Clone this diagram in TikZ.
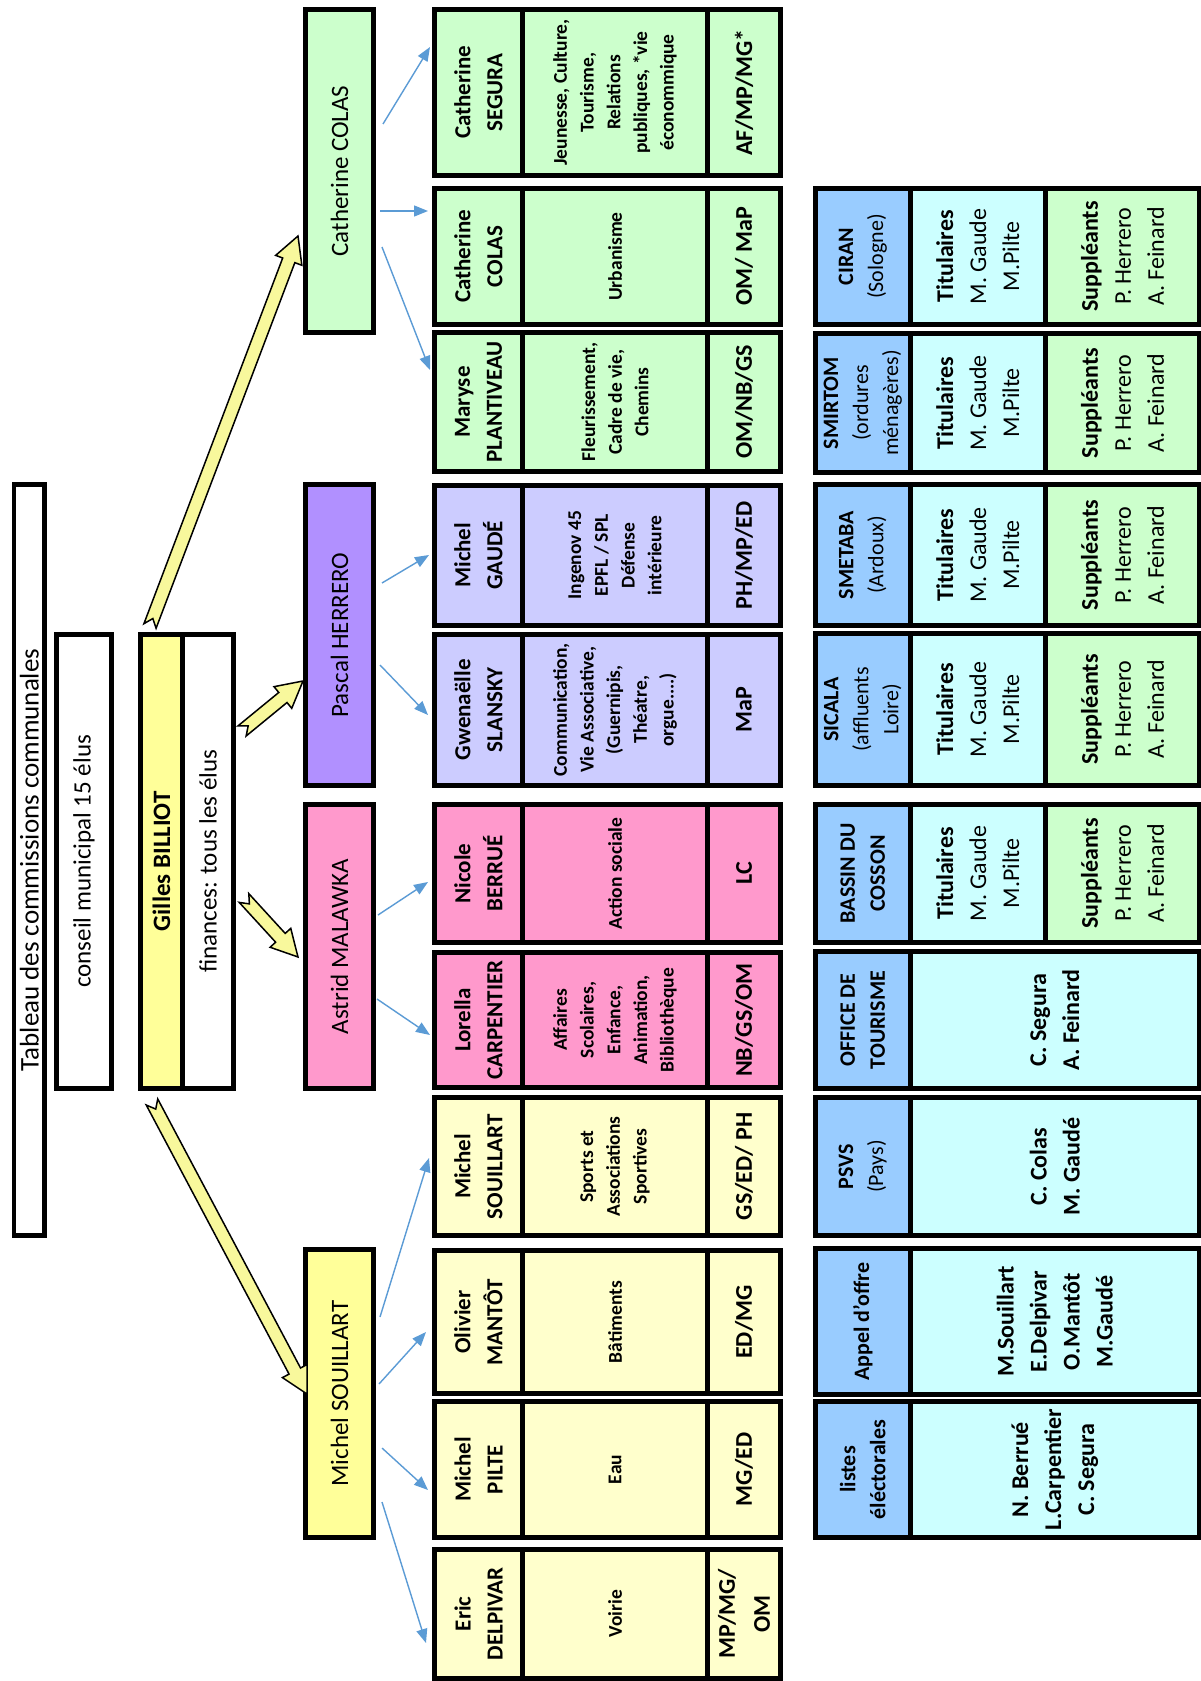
\documentclass[tikz,border=0pt]{standalone}
\usepackage{fontspec}
\setmainfont{Carlito}
\usetikzlibrary{calc,arrows.meta}
\definecolor{hgreen}{HTML}{CCFFCC}
\definecolor{hpurple}{HTML}{B190FF}
\definecolor{clav}{HTML}{CCCCFF}
\definecolor{hpink}{HTML}{FF99CC}
\definecolor{hyellow}{HTML}{FFFF99}
\definecolor{cyellow}{HTML}{FFFFCC}
\definecolor{cblue}{HTML}{99CCFF}
\definecolor{ccyan}{HTML}{CCFFFF}
\definecolor{arrowyel}{HTML}{F8F89C}
\definecolor{linkblue}{HTML}{5B9BD5}
\tikzset{
  box/.style={draw=black,line width=5pt,inner sep=0pt,align=center,rotate=90,text=black},
  hdrf/.style={font=\fontsize{25pt}{30pt}\selectfont},
  titlef/.style={font=\fontsize{27pt}{32pt}\selectfont},
  bigf/.style={font=\fontsize{25pt}{30pt}\selectfont},
  bigbf/.style={font=\fontsize{25pt}{30pt}\selectfont\bfseries},
  namef/.style={font=\fontsize{23pt}{32pt}\selectfont\bfseries},
  descf/.style={font=\fontsize{19.5pt}{26.7pt}\selectfont\bfseries},
  codef/.style={font=\fontsize{24pt}{35pt}\selectfont\bfseries},
  bluef/.style={font=\fontsize{22pt}{30pt}\selectfont},
  tabf/.style={font=\fontsize{24pt}{33pt}\selectfont},
  link/.style={draw=linkblue,line width=1.4pt,-{Triangle[length=14pt,width=11pt]}},
  yarrow/.style={draw=black,line width=1.5pt,fill=arrowyel,line join=miter},
}
% name, x1, y1, x2, y2, style, text
\newcommand\cellbox[7]{\node[box,#6,minimum width={(#5)-(#3)},minimum height={(#4)-(#2)}] (#1) at ({((#2)+(#4))/2},{((#3)+(#5))/2}) {#7};}
% id, y1, y2, fill, name, desc, code
\newcommand\lrow[7]{%
  \cellbox{#1n}{434.5}{#2}{522.5}{#3}{fill=#4,namef}{#5}
  \cellbox{#1d}{522.5}{#2}{707.5}{#3}{fill=#4,descf}{#6}
  \cellbox{#1c}{707.5}{#2}{780.5}{#3}{fill=#4,codef}{#7}}
% id, y1, y2, blue, titulaires, suppleants
\newcommand\rrow[6]{%
  \cellbox{#1b}{815.5}{#2}{910}{#3}{fill=cblue,bluef}{#4}
  \cellbox{#1t}{910}{#2}{1045.5}{#3}{fill=ccyan,tabf}{#5}
  \cellbox{#1s}{1045.5}{#2}{1199.5}{#3}{fill=hgreen,tabf}{#6}}
\newcommand\rrowwide[5]{%
  \cellbox{#1b}{815.5}{#2}{910}{#3}{fill=cblue,bluef}{#4}
  \cellbox{#1t}{910}{#2}{1199.5}{#3}{fill=ccyan,tabf}{#5}}
\newcommand\blockarrow[2]{%
  \path[yarrow] let \p1=($(#2)-(#1)$), \n1={atan2(\y1,\x1)}, \n2={veclen(\x1,\y1)} in
    ([shift={(#1)},rotate=\n1]0pt,6.5pt) -- ([shift={(#1)},rotate=\n1]\n2-26pt,6.5pt)
    -- ([shift={(#1)},rotate=\n1]\n2-26pt,14pt) -- ([shift={(#1)},rotate=\n1]\n2,0pt)
    -- ([shift={(#1)},rotate=\n1]\n2-26pt,-14pt) -- ([shift={(#1)},rotate=\n1]\n2-26pt,-6.5pt)
    -- ([shift={(#1)},rotate=\n1]0pt,-6.5pt) -- ([shift={(#1)},rotate=\n1]8pt,0pt) -- cycle;}
\begin{document}
\begin{tikzpicture}[x=1pt,y=-1pt]
\useasboundingbox[fill=white] (0,0) rectangle (1200,1681);
% left column
\cellbox{title}{14}{484.5}{44.5}{1235.5}{fill=white,titlef,line width=4.5pt}{Tableau des commissions communales}
\cellbox{conseil}{56.5}{634}{111.5}{1088.5}{fill=white,bigf}{conseil municipal 15 élus}
\cellbox{gilles}{140.5}{634}{182.5}{1088.5}{fill=hyellow,bigbf}{Gilles BILLIOT}
\cellbox{finances}{182.5}{634}{233.5}{1088.5}{fill=white,bigf}{finances: tous les élus}
% headers
\cellbox{hcolas}{305.5}{9.5}{373.5}{332.5}{fill=hgreen,hdrf}{Catherine COLAS}
\cellbox{hherrero}{305.5}{484.5}{373.5}{785.5}{fill=hpurple,hdrf}{Pascal HERRERO}
\cellbox{hmalawka}{305.5}{804.5}{373.5}{1088.5}{fill=hpink,hdrf}{Astrid MALAWKA}
\cellbox{hsouillart}{305.5}{1249.5}{373.5}{1537.5}{fill=hyellow,hdrf}{Michel SOUILLART}
% commissions
\lrow{segura}{9.5}{175.5}{hgreen}{Catherine\\SEGURA}{Jeunesse, Culture,\\Tourisme,\\Relations\\publiques, *vie\\économmique}{AF/MP/MG*}
\lrow{colas}{188.5}{324.5}{hgreen}{Catherine\\COLAS}{Urbanisme}{OM/ MaP}
\lrow{plantiveau}{332.5}{471.5}{hgreen}{Maryse\\PLANTIVEAU}{Fleurissement,\\Cadre de vie,\\Chemins}{OM/NB/GS}
\lrow{gaude}{485}{625.5}{clav}{Michel\\GAUDÉ}{Ingenov 45\\EPFL / SPL\\Défense\\intérieure}{PH/MP/ED}
\lrow{slansky}{634}{785.5}{clav}{Gwenaëlle\\SLANSKY}{Communication,\\Vie Associative,\\(Guernipis,\\Théatre,\\orgue....)}{MaP}
\lrow{berrue}{804.5}{942.5}{hpink}{Nicole\\BERRUÉ}{Action sociale}{LC}
\lrow{carpentier}{952.5}{1087.5}{hpink}{Lorella\\CARPENTIER}{Affaires\\Scolaires,\\Enfance,\\Animation,\\Bibliothèque}{NB/GS/OM}
\lrow{souillart}{1097.5}{1235.5}{cyellow}{Michel\\SOUILLART}{Sports et\\Associations\\Sportives}{GS/ED/ PH}
\lrow{mantot}{1250.5}{1393.5}{cyellow}{Olivier\\MANTÔT}{Bâtiments}{ED/MG}
\lrow{pilte}{1401.5}{1537.5}{cyellow}{Michel\\PILTE}{Eau}{MG/ED}
\lrow{delpivar}{1549.5}{1678}{cyellow}{Eric\\DELPIVAR}{Voirie}{MP/MG/\\OM}
% bodies
\rrow{ciran}{188.5}{324.5}{\textbf{CIRAN}\\(Sologne)}{\textbf{Titulaires}\\M. Gaude\\M.Pilte}{\textbf{Suppléants}\\P. Herrero\\A. Feinard}
\rrow{smirtom}{333.5}{472.5}{\textbf{SMIRTOM}\\(ordures\\ménagères)}{\textbf{Titulaires}\\M. Gaude\\M.Pilte}{\textbf{Suppléants}\\P. Herrero\\A. Feinard}
\rrow{smetaba}{484.5}{625.5}{\textbf{SMETABA}\\(Ardoux)}{\textbf{Titulaires}\\M. Gaude\\M.Pilte}{\textbf{Suppléants}\\P. Herrero\\A. Feinard}
\rrow{sicala}{633.5}{785.5}{\textbf{SICALA}\\(affluents\\Loire)}{\textbf{Titulaires}\\M. Gaude\\M.Pilte}{\textbf{Suppléants}\\P. Herrero\\A. Feinard}
\rrow{bassin}{804.5}{942.5}{\textbf{BASSIN DU}\\\textbf{COSSON}}{\textbf{Titulaires}\\M. Gaude\\M.Pilte}{\textbf{Suppléants}\\P. Herrero\\A. Feinard}
\rrowwide{office}{951.5}{1088.5}{\textbf{OFFICE DE}\\\textbf{TOURISME}}{\textbf{C. Segura}\\\textbf{A. Feinard}}
\rrowwide{psvs}{1097.5}{1235.5}{\textbf{PSVS}\\(Pays)}{\textbf{C. Colas}\\\textbf{M. Gaudé}}
\rrowwide{appel}{1248.5}{1394.5}{\textbf{Appel d'offre}}{\textbf{M.Souillart}\\\textbf{E.Delpivar}\\\textbf{O.Mantôt}\\\textbf{M.Gaudé}}
\rrowwide{listes}{1401.5}{1537.5}{\textbf{listes}\\\textbf{éléctorales}}{\textbf{N. Berrué}\\\textbf{L.Carpentier}\\\textbf{C. Segura}}
% yellow block arrows
\coordinate (a1s) at (150,626); \coordinate (a1e) at (298,236);
\coordinate (a2s) at (242,731); \coordinate (a2e) at (303,681);
\coordinate (a3s) at (244,898); \coordinate (a3e) at (298,957);
\coordinate (a4s) at (152,1102); \coordinate (a4e) at (307,1394);
\blockarrow{a1s}{a1e}
\blockarrow{a2s}{a2e}
\blockarrow{a3s}{a3e}
\blockarrow{a4s}{a4e}
% blue links
\coordinate (l1s) at (383,124); \coordinate (l1e) at (430,47);
\coordinate (l2s) at (380,211); \coordinate (l2e) at (428,211);
\coordinate (l3s) at (382,247); \coordinate (l3e) at (430,370);
\coordinate (l4s) at (382,583); \coordinate (l4e) at (429,555);
\coordinate (l5s) at (380,665); \coordinate (l5e) at (428,715);
\coordinate (l6s) at (378,915); \coordinate (l6e) at (428,882);
\coordinate (l7s) at (377,999); \coordinate (l7e) at (430,1035);
\coordinate (l8s) at (380,1317); \coordinate (l8e) at (429,1158);
\coordinate (l9s) at (379,1384); \coordinate (l9e) at (426,1332);
\coordinate (l10s) at (382,1448); \coordinate (l10e) at (428,1490);
\coordinate (l11s) at (382,1502); \coordinate (l11e) at (426,1643);
\foreach \i in {1,...,11} {\draw[link] (l\i s) -- (l\i e);}
\end{tikzpicture}
\end{document}
